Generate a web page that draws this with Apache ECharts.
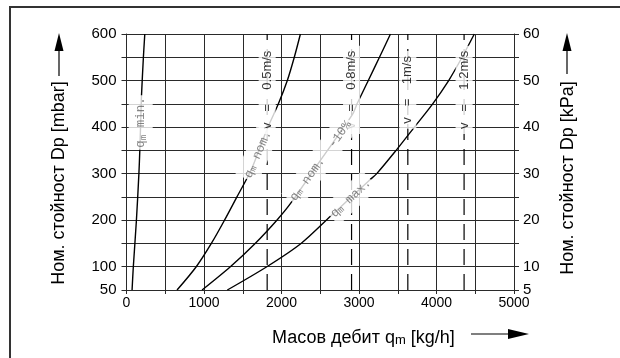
<!DOCTYPE html>
<html><head><meta charset="utf-8">
<script src="https://cdn.jsdelivr.net/npm/echarts@6/dist/echarts.min.js"></script>
<style>html,body{margin:0;padding:0;background:#fff}#c{width:620px;height:358px}</style>
</head><body><div id="c"></div>
<script>
// ---- data ----
const minQ   = [72, 88, 128, 160, 172, 183, 194, 218, 236];
const minDp  = [50, 100, 200, 300, 351, 410, 469, 550, 600];
const nomQ   = [652, 900, 1095, 1265, 1425, 1598, 1690, 1825, 1960, 2075, 2165, 2244];
const nomDp  = [50, 100, 150, 200, 250, 304, 342, 400, 450, 500, 550, 600];
const nom10Q = [975, 1340, 1660, 1940, 2117, 2500, 2912, 2975, 3120, 3264, 3406];
const nom10Dp= [50, 100, 150, 200, 236, 328, 426, 450, 500, 550, 600];
const maxQ   = [1301, 1810, 2252, 2642, 2890, 3135, 3229, 3479, 3715, 3951, 4157, 4330, 4488];
const maxDp  = [50, 100, 150, 210, 248, 286, 300, 350, 400, 450, 500, 550, 600];
const velQ   = [1815, 2904, 3630, 4356];
const velText = ['0.5', '0.8', '1', '1.2'];
const velLabelDp = 480;
const curveNames = ['min.', 'nom.', 'nom.  -10%', 'max.'];
const curveLabelIdx = [5, 6, 5, 4];
const xTickLabels = [0, 1000, 2000, 3000, 4000, 5000];
const leftTickLabels = [50, 100, 200, 300, 400, 500, 600];
const rightTickLabels = [5, 10, 20, 30, 40, 50, 60];

// ---- chart ----
const SANS = 'Liberation Sans';
const MONO = 'Liberation Mono';
const curves = [[minQ, minDp], [nomQ, nomDp], [nom10Q, nom10Dp], [maxQ, maxDp]];
const curveRot = [90, 66, 54, 43];
const pairs = (q, dp) => q.map((v, i) => [v, dp[i]]);
const gridColor = '#2a2a2a';

const chart = echarts.init(document.getElementById('c'), null, {renderer: 'canvas'});
const series = [];
velQ.forEach(q => series.push({
  type: 'line', data: [[q, 50], [q, 600]], z: 1, symbol: 'none', silent: true,
  lineStyle: {color: '#000', width: 1.2, type: [16, 9]}
}));
curves.forEach(([q, dp]) => series.push({
  type: 'line', data: pairs(q, dp), smooth: 0.3, symbol: 'none', z: 2, silent: true,
  lineStyle: {color: '#000', width: 1.4}
}));
series.push({
  type: 'scatter', zlevel: 1, z: 4, symbolSize: 1, silent: true, itemStyle: {color: 'transparent'},
  label: {show: true, position: 'inside', rotate: 90, fontFamily: SANS, fontSize: 13, color: '#000',
          backgroundColor: '#fff', padding: [2, 5]},
  data: velQ.map((q, i) => ({value: [q, velLabelDp], label: {formatter: 'v   =    ' + velText[i] + 'm/s'}}))
});
series.push({
  type: 'scatter', zlevel: 1, z: 5, symbolSize: 1, silent: true, itemStyle: {color: 'transparent'},
  label: {
    show: true, position: 'inside', backgroundColor: '#fff', padding: [5, 2],
    rich: {
      a: {fontFamily: MONO, fontSize: 12.5, color: '#666', lineHeight: 14, verticalAlign: 'bottom'},
      s: {fontFamily: MONO, fontSize: 9, color: '#666', lineHeight: 6, verticalAlign: 'bottom'}
    }
  },
  data: curves.map(([q, dp], i) => ({
    value: [q[curveLabelIdx[i]], dp[curveLabelIdx[i]]],
    label: {rotate: curveRot[i], formatter: '{a|q}{s|m}{a| ' + curveNames[i] + '}'}
  }))
});

const axisText = {fontFamily: SANS, fontSize: 14, color: '#000'};
chart.setOption({
  animation: false,
  grid: {left: 126.5, right: 106, top: 34, bottom: 68},
  xAxis: {
    type: 'value', min: 0, max: 5000, interval: 500,
    axisLine: {show: true, onZero: false, lineStyle: {color: gridColor, width: 1}},
    axisTick: {show: true, length: 4, lineStyle: {color: gridColor}},
    splitLine: {show: true, lineStyle: {color: gridColor, width: 1}},
    axisLabel: Object.assign({margin: 6, formatter: v => xTickLabels.includes(v) ? String(v) : ''}, axisText)
  },
  yAxis: [{
    type: 'value', min: 50, max: 600, interval: 50, position: 'left',
    axisLine: {show: true, onZero: false, lineStyle: {color: gridColor, width: 1}},
    axisTick: {show: true, length: 5, lineStyle: {color: gridColor}},
    splitLine: {show: true, lineStyle: {color: gridColor, width: 1}},
    axisLabel: Object.assign({}, axisText, {fontSize: 15, margin: 10, formatter: v => leftTickLabels.includes(v) ? String(v) : ''})
  }, {
    type: 'value', min: 5, max: 60, interval: 5, position: 'right',
    axisLine: {show: true, onZero: false, lineStyle: {color: gridColor, width: 1}},
    axisTick: {show: true, length: 5, lineStyle: {color: gridColor}},
    splitLine: {show: false},
    axisLabel: Object.assign({}, axisText, {fontSize: 15, margin: 9, formatter: v => rightTickLabels.includes(v) ? String(v) : ''})
  }],
  series: series,
  graphic: [
    {type: 'rect', silent: true, shape: {x: 10, y: 7, width: 700, height: 500},
     style: {fill: 'none', stroke: '#333', lineWidth: 2}},
    {type: 'text', x: 59, y: 183, rotation: Math.PI / 2,
     style: {text: 'Ном. стойност Dp [mbar]', fontFamily: SANS, fontSize: 18, fill: '#000', align: 'center', verticalAlign: 'middle'}},
    {type: 'line', shape: {x1: 59, y1: 76, x2: 59, y2: 48}, style: {stroke: '#000', lineWidth: 1.2}},
    {type: 'polygon', shape: {points: [[59, 33], [54.5, 51], [63.5, 51]]}, style: {fill: '#000'}},
    {type: 'text', x: 568, y: 178, rotation: Math.PI / 2,
     style: {text: 'Ном. стойност Dp [kPa]', fontFamily: SANS, fontSize: 18, fill: '#000', align: 'center', verticalAlign: 'middle'}},
    {type: 'line', shape: {x1: 567, y1: 74, x2: 567, y2: 48}, style: {stroke: '#000', lineWidth: 1.2}},
    {type: 'polygon', shape: {points: [[567, 33], [562.5, 51], [571.5, 51]]}, style: {fill: '#000'}},
    {type: 'text', x: 272, y: 336,
     style: {text: '{a|Масов дебит q}{s|m}{a| [kg/h]}', align: 'left', verticalAlign: 'middle',
       rich: {a: {fontFamily: SANS, fontSize: 18, fill: '#000', lineHeight: 22, verticalAlign: 'bottom'},
              s: {fontFamily: SANS, fontSize: 13, fill: '#000', lineHeight: 9, verticalAlign: 'bottom'}}}},
    {type: 'line', shape: {x1: 471, y1: 334, x2: 512, y2: 334}, style: {stroke: '#000', lineWidth: 1.2}},
    {type: 'polygon', shape: {points: [[529, 334], [508, 329], [508, 339]]}, style: {fill: '#000'}}
  ]
});
</script>
</body></html>
